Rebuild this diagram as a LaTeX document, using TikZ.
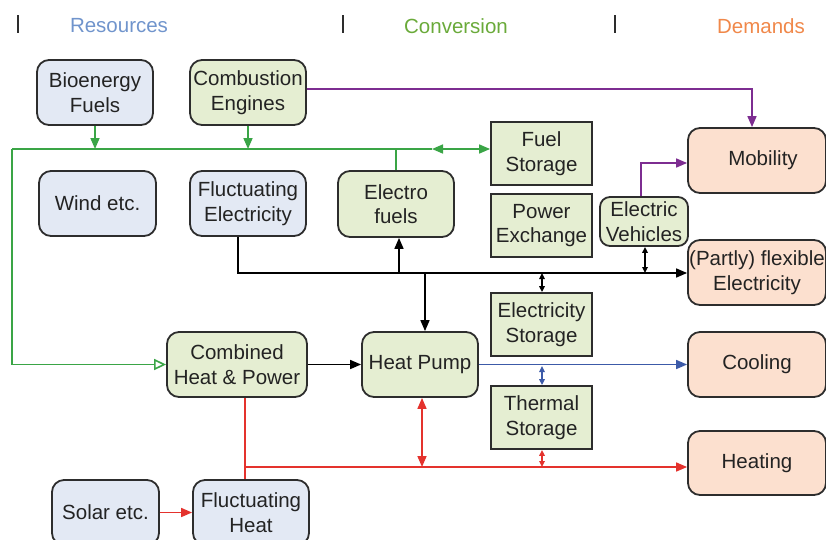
\documentclass[tikz,border=0pt]{standalone}
\usepackage{fontspec}
\setmainfont{Liberation Sans}
\usetikzlibrary{arrows.meta}
\definecolor{bluefill}{RGB}{227,233,244}
\definecolor{greenfill}{RGB}{229,238,210}
\definecolor{orangefill}{RGB}{252,224,207}
\definecolor{edge}{RGB}{45,45,45}
\definecolor{txt}{RGB}{35,35,35}
\definecolor{gcol}{RGB}{58,165,70}
\definecolor{pcol}{RGB}{125,45,145}
\definecolor{bcol}{RGB}{60,90,168}
\definecolor{rcol}{RGB}{228,50,45}
\definecolor{hblue}{RGB}{112,148,204}
\definecolor{hgreen}{RGB}{106,170,58}
\definecolor{horange}{RGB}{240,136,74}
\tikzset{
  base/.style={draw=edge, line width=1.8pt, text=txt, align=center, inner sep=0pt,
    font=\fontsize{20.5}{24.5}\selectfont},
  rbox/.style={base, rounded corners=12pt},
  resbox/.style={rbox, fill=bluefill},
  convbox/.style={rbox, fill=greenfill},
  demandbox/.style={rbox, fill=orangefill},
  storebox/.style={base, fill=greenfill},
  conn/.style={line width=1.6pt},
  bigtip/.style={-{Triangle[length=11pt,width=9pt]}},
  dbltip/.style={{Triangle[length=11pt,width=9pt]}-{Triangle[length=11pt,width=9pt]}},
  smalltip/.style={{Triangle[length=6pt,width=5.5pt]}-{Triangle[length=6pt,width=5.5pt]}},
  header/.style={font=\fontsize{20.5}{24}\selectfont},
  bar/.style={draw=edge, line width=1.8pt}
}
\begin{document}
\begin{tikzpicture}[x=1pt,y=-1pt]
\useasboundingbox (0,0) rectangle (826,539);
% headers
\node[header, text=hblue] (hres) at (119,26) {Resources};
\node[header, text=hgreen] (hconv) at (456,26) {Conversion};
\node[header, text=horange] (hdem) at (761,26) {Demands};
\draw[bar] (18,15) -- (18,33);
\draw[bar] (343,15) -- (343,33);
\draw[bar] (615,15) -- (615,33);
% nodes
\node[resbox, minimum width=116pt, minimum height=65pt] (bio) at (95,92.5) {Bioenergy\\Fuels};
\node[convbox, minimum width=116pt, minimum height=65pt] (ce) at (248,92.5) {Combustion\\Engines};
\node[resbox, minimum width=117pt, minimum height=65pt] (wind) at (97.5,203.5) {Wind etc.};
\node[resbox, minimum width=116pt, minimum height=65pt] (fe) at (248,203.5) {Fluctuating\\Electricity};
\node[convbox, minimum width=116pt, minimum height=66pt] (ef) at (396,204) {Electro\\fuels};
\node[storebox, minimum width=101pt, minimum height=63pt] (fs) at (541.5,153.5) {Fuel\\Storage};
\node[storebox, minimum width=101pt, minimum height=63pt] (pe) at (541.5,225.5) {Power\\Exchange};
\node[convbox, rounded corners=10pt, minimum width=88pt, minimum height=49pt] (ev) at (644,221.5) {Electric\\Vehicles};
\node[demandbox, minimum width=138pt, minimum height=65pt] (mob) at (757,160.5) {\hspace*{12pt}Mobility};
\node[demandbox, minimum width=138pt, minimum height=65pt] (flex) at (757,272.5) {(Partly) flexible\\Electricity};
\node[storebox, minimum width=101pt, minimum height=63pt] (es) at (541.5,324.5) {Electricity\\Storage};
\node[convbox, minimum width=140pt, minimum height=65pt] (chp) at (237,364.5) {Combined\\Heat \& Power};
\node[convbox, minimum width=116pt, minimum height=65pt] (hp) at (420,364.5) {Heat Pump};
\node[demandbox, minimum width=138pt, minimum height=65pt] (cool) at (757,364.5) {Cooling};
\node[storebox, minimum width=101pt, minimum height=63pt] (ts) at (541.5,417.5) {Thermal\\Storage};
\node[demandbox, minimum width=138pt, minimum height=64pt] (heat) at (757,463) {Heating};
\node[resbox, minimum width=107pt, minimum height=65pt] (solar) at (105.5,512.5) {Solar etc.};
\node[resbox, minimum width=116pt, minimum height=65pt] (fh) at (251,512.5) {Fluctuating\\Heat};
% coordinates
\coordinate (gL) at (12,149);
\coordinate (gM) at (432,149);
\coordinate (pm) at (752,89);
\coordinate (evt) at (641,163);
\coordinate (bl) at (238,273);
\coordinate (e1) at (399,273);
\coordinate (h1) at (425,273);
\coordinate (s1) at (542,273);
\coordinate (v1) at (645,273);
\coordinate (s2) at (542,366);
\coordinate (rl) at (245,467);
\coordinate (r1) at (422,467);
\coordinate (s3) at (542,467);
% green fuel network
\draw[conn, gcol] (gL) -- (gM);
\draw[conn, gcol, dbltip] (gM) -- (fs.west |- gL);
\draw[conn, gcol, bigtip] (bio.south) -- (bio.south |- gL);
\draw[conn, gcol, bigtip] (ce.south) -- (ce.south |- gL);
\draw[conn, gcol] (ef.north) -- (ef.north |- gL);
\draw[conn, gcol, -{Triangle[open,length=12pt,width=11pt]}] (gL) -- (gL |- chp.west) -- (chp.west);
% purple mobility
\draw[conn, pcol, bigtip] (ce.east |- pm) -- (pm) -- (pm |- mob.north);
\draw[conn, pcol, bigtip] (evt |- ev.north) -- (evt) -- (evt -| mob.west);
% black electricity
\draw[conn, black, bigtip] (fe.south -| bl) -- (bl) -- (bl -| flex.west);
\draw[conn, black, bigtip] (e1) -- (e1 |- ef.south);
\draw[conn, black, bigtip] (h1) -- (h1 |- hp.north);
\draw[conn, black, smalltip] (s1) -- (s1 |- es.north);
\draw[conn, black, smalltip] (v1 |- ev.south) -- (v1);
\draw[conn, black, bigtip] (chp.east) -- (hp.west);
% blue cooling
\draw[conn, bcol, bigtip] (hp.east) -- (cool.west);
\draw[conn, bcol, smalltip] (s2) -- (s2 |- ts.north);
% red heat
\draw[conn, rcol] (rl |- chp.south) -- (rl |- fh.north);
\draw[conn, rcol, bigtip] (rl) -- (rl -| heat.west);
\draw[conn, rcol, dbltip] (r1 |- hp.south) -- (r1);
\draw[conn, rcol, smalltip] (s3 |- ts.south) -- (s3);
\draw[conn, rcol, bigtip] (solar.east) -- (fh.west);
\end{tikzpicture}
\end{document}
